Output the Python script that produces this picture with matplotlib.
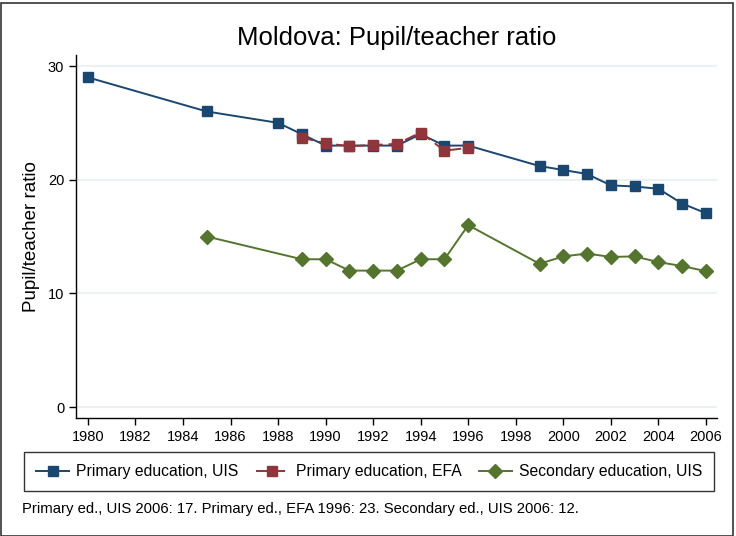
import numpy as np
from matplotlib import pyplot as plt
from matplotlib.patches import Rectangle

# data
years_uis = [1980, 1985, 1988, 1989, 1990, 1991, 1992, 1993, 1994, 1995, 1996,
             1999, 2000, 2001, 2002, 2003, 2004, 2005, 2006]
primary_uis = [29.0, 26.0, 25.0, 24.0, 23.0, 23.0, 23.0, 23.0, 24.0, 23.0, 23.0,
               21.2, 20.85, 20.5, 19.5, 19.4, 19.2, 17.9, 17.05]

years_efa = [1989, 1990, 1991, 1992, 1993, 1994, 1995, 1996]
primary_efa = [23.7, 23.2, 22.95, 23.05, 23.15, 24.15, 22.55, 22.8]

years_sec = [1985, 1989, 1990, 1991, 1992, 1993, 1994, 1995, 1996,
             1999, 2000, 2001, 2002, 2003, 2004, 2005, 2006]
secondary_uis = [15.0, 13.0, 13.0, 12.0, 12.0, 12.0, 13.0, 13.0, 16.0,
                 12.6, 13.25, 13.5, 13.2, 13.25, 12.75, 12.4, 11.95]

labels = ['Primary education, UIS', 'Primary education, EFA', 'Secondary education, UIS']
note = 'Primary ed., UIS 2006: 17. Primary ed., EFA 1996: 23. Secondary ed., UIS 2006: 12.'

c_navy = '#1a476f'
c_maroon = '#90353b'
c_green = '#55752f'

plt.rcParams.update({'font.family': ['Liberation Sans', 'DejaVu Sans'], 'font.size': 10})
fig = plt.figure(figsize=(7.36, 5.36), dpi=100)
fig.patch.set_facecolor('w')

# thin frame around the whole graph
fig.patches.append(Rectangle((0.002, 0.0), 0.994, 0.994, transform=fig.transFigure,
                             fill=False, edgecolor='#333333', lw=1.2))

ax = fig.add_axes([0.1033, 0.2201, 0.8707, 0.6773])

l1, = ax.plot(years_uis, primary_uis, c=c_navy, lw=1.4, marker='s', ms=7.5,
              mec=c_navy, mfc=c_navy, zorder=3)
l2, = ax.plot(years_efa, primary_efa, c=c_maroon, lw=1.4, ls=(0, (6, 3)), marker='s',
              ms=7.5, mec=c_maroon, mfc=c_maroon, zorder=4)
l3, = ax.plot(years_sec, secondary_uis, c=c_green, lw=1.4, marker='D', ms=7.5,
              mec=c_green, mfc=c_green, zorder=3)

ax.set_xlim(1979.5, 2006.46)
ax.set_ylim(-0.97, 30.97)
ax.set_xticks(np.arange(1980, 2007, 2))
ax.set_yticks([0, 10, 20, 30])
for y in [0, 10, 20, 30]:
    ax.axhline(y, color='#eaf0f3', lw=1.5, zorder=1)

for s in ['top', 'right']:
    ax.spines[s].set_visible(False)
for s in ['left', 'bottom']:
    ax.spines[s].set_linewidth(1.0)
ax.tick_params(direction='out', length=5, width=1, labelsize=10.5)
ax.set_ylabel('Pupil/teacher ratio', fontsize=13.5, labelpad=6)

fig.text(0.5385, 0.93, 'Moldova: Pupil/teacher ratio', ha='center', va='center', fontsize=18.5)

leg = fig.legend([l1, l2, l3], labels, ncol=3, loc='lower left',
                 bbox_to_anchor=(0.033, 0.084, 0.937, 0.074), mode='expand',
                 fontsize=11.3, handlelength=2.1, handletextpad=0.45, frameon=True,
                 fancybox=False, borderaxespad=0, borderpad=0.75, columnspacing=1.5)
leg.get_frame().set_edgecolor('k')
leg.get_frame().set_linewidth(1.0)

fig.text(0.03, 0.05, note, ha='left', va='center', fontsize=10.7)

plt.savefig('out.png', dpi=100)
